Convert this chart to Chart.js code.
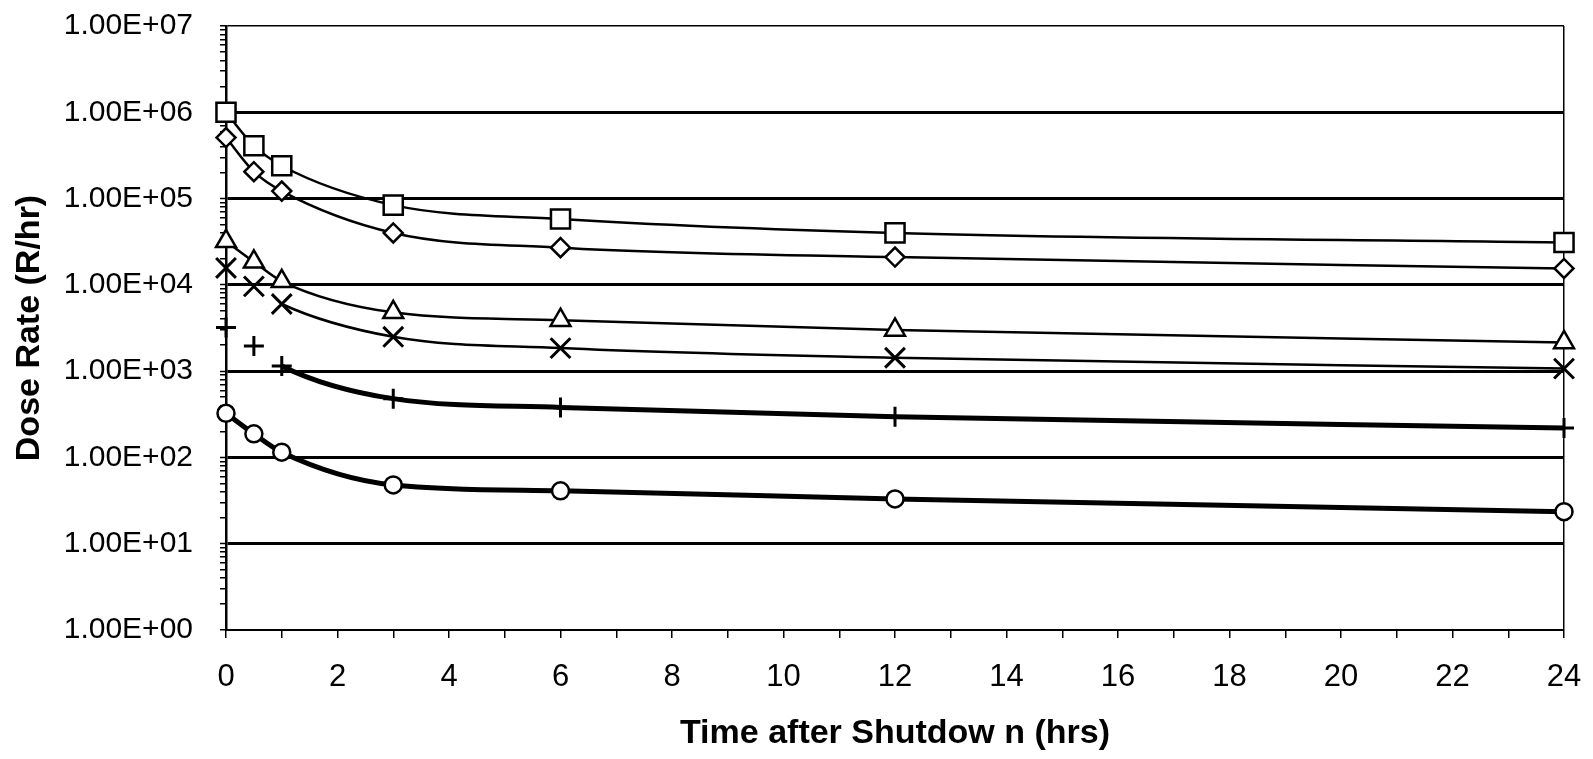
<!DOCTYPE html>
<html>
<head>
<meta charset="utf-8">
<script src="https://cdn.jsdelivr.net/npm/chart.js@4/dist/chart.umd.min.js"></script>
<style>
  html, body { margin: 0; padding: 0; background: #fff; }
  canvas { display: block; }
</style>
</head>
<body>
<canvas id="chart" width="1593" height="759"></canvas>
<script>
// hours after shutdown
const hours = [0, 0.5, 1, 3, 6, 12, 24];

// dose rates (R/hr)
const squareSeries   = [1.0e6, 4.1e5, 2.4e5, 8.4e4, 5.8e4, 4.0e4, 3.1e4];
const diamondSeries  = [5.1e5, 2.05e5, 1.22e5, 4.0e4, 2.7e4, 2.1e4, 1.55e4];
const triangleSeries = [3.2e4, 1.85e4, 1.1e4, 4.8e3, 3.9e3, 3.0e3, 2.15e3];
const crossSeries    = [1.57e4, 9.6e3, 6.0e3, 2.5e3, 1.85e3, 1.43e3, 1.07e3];
const plusSeries     = [3.2e3, 1.95e3, 1.15e3, 4.8e2, 3.8e2, 2.97e2, 2.2e2];
const circleSeries   = [325, 188, 115, 48, 41, 33, 23.5];

const decades = [1, 1e1, 1e2, 1e3, 1e4, 1e5, 1e6, 1e7];
const evenHours = [0, 2, 4, 6, 8, 10, 12, 14, 16, 18, 20, 22, 24];

const FONT = '"Liberation Sans", Arial, sans-serif';

function pts(vals) {
  return hours.map((h, i) => ({ x: h, y: vals[i] }));
}

function isDecade(v) {
  return decades.some(d => Math.abs(v - d) < d * 1e-6);
}

function fmtE(v) {
  const e = Math.round(Math.log10(v));
  return '1.00E+' + String(e).padStart(2, '0');
}

// no visible line between the first three points
const skipEarly = { borderColor: ctx => ctx.p1DataIndex <= 2 ? 'rgba(0,0,0,0)' : undefined };

function series(vals, style, radius, lineW, extra) {
  return Object.assign({
    data: pts(vals),
    borderColor: '#000',
    backgroundColor: '#fff',
    borderWidth: lineW,
    pointStyle: style,
    pointRadius: radius,
    pointHoverRadius: radius,
    pointBorderColor: '#000',
    pointBackgroundColor: '#fff',
    pointBorderWidth: 2.5,
    cubicInterpolationMode: 'monotone',
    clip: false
  }, extra || {});
}

const ctx = document.getElementById('chart').getContext('2d');
new Chart(ctx, {
  type: 'line',
  data: {
    datasets: [
      series(squareSeries, 'rect', 13.5, 2.5),
      series(diamondSeries, 'rectRot', 9.5, 2.5),
      series(triangleSeries, 'triangle', 11.5, 2.5),
      series(crossSeries, 'crossRot', 14, 2.5, { pointBorderWidth: 3, segment: skipEarly }),
      series(plusSeries, 'cross', 10, 5, { pointBorderWidth: 3, segment: skipEarly }),
      series(circleSeries, 'circle', 8.5, 5)
    ]
  },
  options: {
    responsive: false,
    animation: false,
    layout: { padding: { top: 26, right: 29, bottom: 0, left: 0 } },
    plugins: {
      legend: { display: false },
      tooltip: { enabled: false }
    },
    scales: {
      x: {
        type: 'linear',
        min: 0,
        max: 24,
        ticks: {
          stepSize: 1,
          autoSkip: false,
          maxRotation: 0,
          padding: 21,
          color: '#000',
          font: { family: FONT, size: 31 },
          callback: v => evenHours.includes(v) ? String(v) : ''
        },
        grid: {
          drawOnChartArea: true,
          color: c => (c.tick && c.tick.value === 24) ? '#000' : 'rgba(0,0,0,0)',
          lineWidth: 1.5,
          tickColor: '#000',
          tickWidth: 1.5,
          tickLength: 8
        },
        border: { display: true, color: '#000', width: 2 },
        title: {
          display: true,
          text: 'Time after Shutdow n (hrs)',
          color: '#000',
          font: { family: FONT, size: 34, weight: 'bold' },
          padding: { top: 0, bottom: 5 }
        },
        afterFit: s => {
          s.height = 129;
          s.paddingLeft = 0; s.paddingRight = 0; s.paddingTop = 0; s.paddingBottom = 0;
        }
      },
      y: {
        type: 'logarithmic',
        min: 1,
        max: 1e7,
        afterBuildTicks: s => {
          const t = [];
          decades.forEach((d, i) => {
            t.push({ value: d });
            if (i < decades.length - 1) {
              for (let m = 2; m <= 9; m++) t.push({ value: m * d });
            }
          });
          s.ticks = t;
        },
        ticks: {
          autoSkip: false,
          padding: 27,
          color: '#000',
          font: { family: FONT, size: 30 },
          callback: v => isDecade(v) ? fmtE(v) : ''
        },
        grid: {
          color: c => (c.tick && isDecade(c.tick.value)) ? '#000' : 'rgba(0,0,0,0)',
          lineWidth: c => {
            if (!c.tick) return 1;
            const v = c.tick.value;
            return (v > 1.5 && v < 5e6 && isDecade(v)) ? 3 : 1.5;
          },
          tickColor: '#000',
          tickWidth: 1.5,
          tickLength: 6
        },
        border: { display: true, color: '#000', width: 2.5 },
        title: {
          display: true,
          text: 'Dose Rate (R/hr)',
          color: '#000',
          font: { family: FONT, size: 34, weight: 'bold' },
          padding: { top: 9, bottom: 0 }
        },
        afterFit: s => {
          s.width = 226;
          s.paddingLeft = 0; s.paddingRight = 0; s.paddingTop = 0; s.paddingBottom = 0;
        }
      }
    }
  }
});
</script>
</body>
</html>
